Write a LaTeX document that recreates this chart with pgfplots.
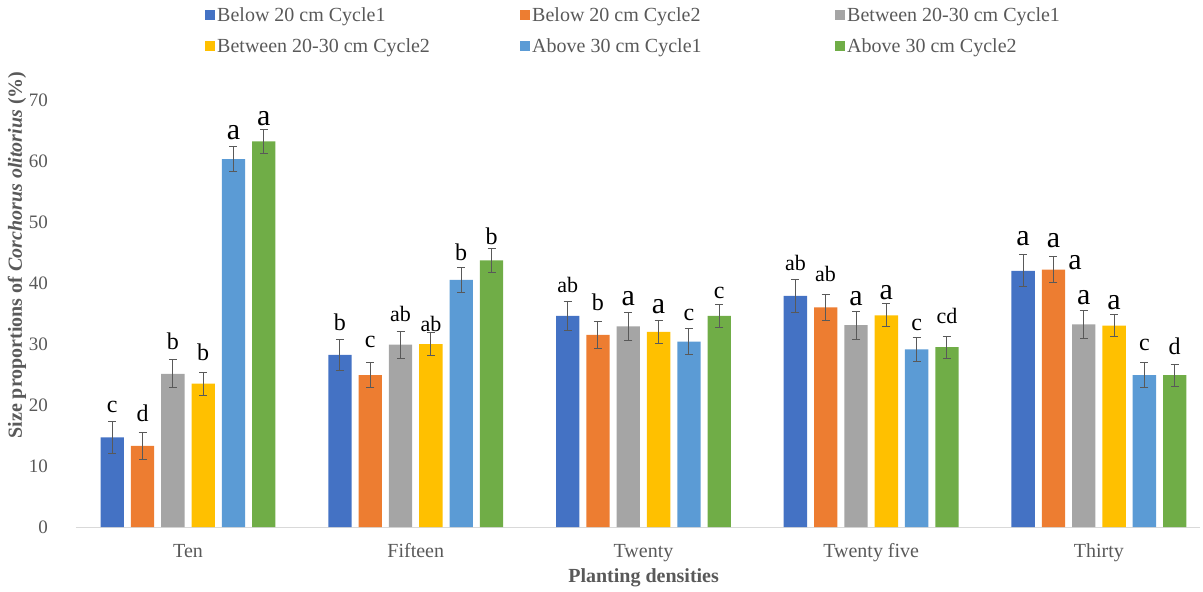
\documentclass[border=0pt]{standalone}
\usepackage{pgfplots}
\usepackage{pgfplotstable}
\pgfplotsset{compat=1.18}
\usepackage{fontspec}
\setmainfont{Liberation Serif}
\newcommand\fs[1]{\fontsize{#1}{#1}\selectfont}
\definecolor{cBa}{HTML}{4472C4}
\definecolor{cBb}{HTML}{ED7D31}
\definecolor{cMa}{HTML}{A5A5A5}
\definecolor{cMb}{HTML}{FFC000}
\definecolor{cAa}{HTML}{5B9BD5}
\definecolor{cAb}{HTML}{70AD47}
\definecolor{txt}{HTML}{595959}

% bar position (group + offset), value, error
\pgfplotstableread{
x y e
-0.3328 14.7 2.6
0.6672 28.2 2.6
1.6672 34.6 2.4
2.6672 37.9 2.7
3.6672 42.0 2.6
}\tBa
\pgfplotstableread{
x y e
-0.1997 13.3 2.2
0.8003 24.9 2.1
1.8003 31.5 2.2
2.8003 36.0 2.1
3.8003 42.2 2.1
}\tBb
\pgfplotstableread{
x y e
-0.0666 25.1 2.3
0.9334 29.9 2.2
1.9334 32.9 2.3
2.9334 33.1 2.3
3.9334 33.2 2.3
}\tMa
\pgfplotstableread{
x y e
0.0666 23.5 1.9
1.0666 30.0 1.9
2.0666 32.0 1.9
3.0666 34.7 1.9
4.0666 33.0 1.8
}\tMb
\pgfplotstableread{
x y e
0.1997 60.3 2.0
1.1997 40.5 2.1
2.1997 30.4 2.1
3.1997 29.1 2.0
4.1997 24.9 2.1
}\tAa
\pgfplotstableread{
x y e
0.3328 63.2 1.9
1.3328 43.7 1.9
2.3328 34.6 1.9
3.3328 29.5 1.8
4.3328 24.9 1.8
}\tAb

% letters: x, baseline y, label
\pgfplotstableread{
x y l
0.1997 63.4 a
0.3328 65.7 a
1.9334 36.2 a
2.0666 34.9 a
2.9334 36.2 a
3.0666 37.2 a
3.6672 46.1 a
3.8003 45.7 a
3.8950 42.1 a
3.9334 36.4 a
4.0666 35.5 a
}\tLa
\pgfplotstableread{
x y l
-0.3328 18.7 c
-0.1997 17.3 d
-0.0666 29.0 b
0.0666 27.3 b
0.6672 32.2 b
0.8003 29.4 c
1.1997 43.6 b
1.3328 46.3 b
1.8003 35.4 b
2.1997 33.8 c
2.3328 37.4 c
3.1997 32.1 c
4.1997 28.9 c
4.3328 28.2 d
}\tLb
\pgfplotstableread{
x y l
0.9334 33.7 ab
1.0666 32.0 ab
1.6672 38.4 ab
2.6672 42.0 ab
2.7997 40.1 ab
3.3328 33.3 cd
}\tLc

\pgfplotsset{
  mybar/.style={ybar, bar width=0.1025, bar shift=0, draw=none,
    legend image code/.code={\fill[##1,draw=none] (0pt,-5pt) rectangle (10pt,5pt);},
    error bars/y dir=both, error bars/y explicit,
    error bars/error bar style={line width=1pt, draw=txt},
    error bars/error mark options={line width=1pt, draw=txt, mark size=4pt, rotate=90}},
  letters/.style={draw=none, nodes near coords, point meta=explicit symbolic,
    every node near coord/.append style={inner sep=0pt, text=black, font=\fs{#1}}},
}

\begin{document}
\begin{tikzpicture}
\path[use as bounding box] (-76pt,-65pt) rectangle (1127pt,527pt);
\begin{axis}[
  scale only axis, width=1124pt, height=427pt,
  xmin=-0.4919, xmax=4.444, ymin=0, ymax=70,
  axis x line*=bottom, axis y line*=left,
  x axis line style={draw=black!15, line width=1pt, -},
  y axis line style={draw=none},
  xtick={0,1,2,3,4},
  xticklabels={Ten,Fifteen,Twenty,Twenty five,Thirty},
  ytick={0,10,...,70},
  major tick length=0pt,
  /pgf/number format/assume math mode=true,
  xticklabel style={font=\fs{20}, text=txt, anchor=base, yshift=-30pt},
  yticklabel style={font=\fs{19}, text=txt, anchor=east, inner sep=0pt, xshift=-28pt},
  every axis x label/.style={at={(axis description cs:0.505,-0.1194)}, anchor=center, font=\bfseries\fs{20}, text=txt},
  every axis y label/.style={at={(axis description cs:-0.0525,0.637)}, rotate=90, anchor=center, font=\bfseries\fs{20}, text=txt},
  xlabel={Planting densities},
  ylabel={Size proportions of \textit{Corchorus olitorius} (\%)},
  legend columns=3,
  legend style={at={(axis description cs:0.1148,1.222)}, anchor=north west, draw=none, fill=none,
    font=\fs{20}, text=txt, inner sep=0pt, row sep=12pt,
    nodes={inner sep=2pt}},
  clip=false,
]
\addplot[fill=cBa, mybar] table[x=x,y=y,y error=e]{\tBa};
\addlegendentry{\makebox[301pt][l]{Below 20 cm Cycle1}}
\addplot[fill=cBb, mybar] table[x=x,y=y,y error=e]{\tBb};
\addlegendentry{\makebox[301pt][l]{Below 20 cm Cycle2}}
\addplot[fill=cMa, mybar] table[x=x,y=y,y error=e]{\tMa};
\addlegendentry{\makebox[301pt][l]{Between 20-30 cm Cycle1}}
\addplot[fill=cMb, mybar] table[x=x,y=y,y error=e]{\tMb};
\addlegendentry{\makebox[301pt][l]{Between 20-30 cm Cycle2}}
\addplot[fill=cAa, mybar] table[x=x,y=y,y error=e]{\tAa};
\addlegendentry{\makebox[301pt][l]{Above 30 cm Cycle1}}
\addplot[fill=cAb, mybar] table[x=x,y=y,y error=e]{\tAb};
\addlegendentry{\makebox[301pt][l]{Above 30 cm Cycle2}}

\addplot[letters=30] table[x=x,y=y,meta=l]{\tLa};
\addplot[letters=24] table[x=x,y=y,meta=l]{\tLb};
\addplot[letters=22] table[x=x,y=y,meta=l]{\tLc};
\end{axis}
\end{tikzpicture}
\end{document}
